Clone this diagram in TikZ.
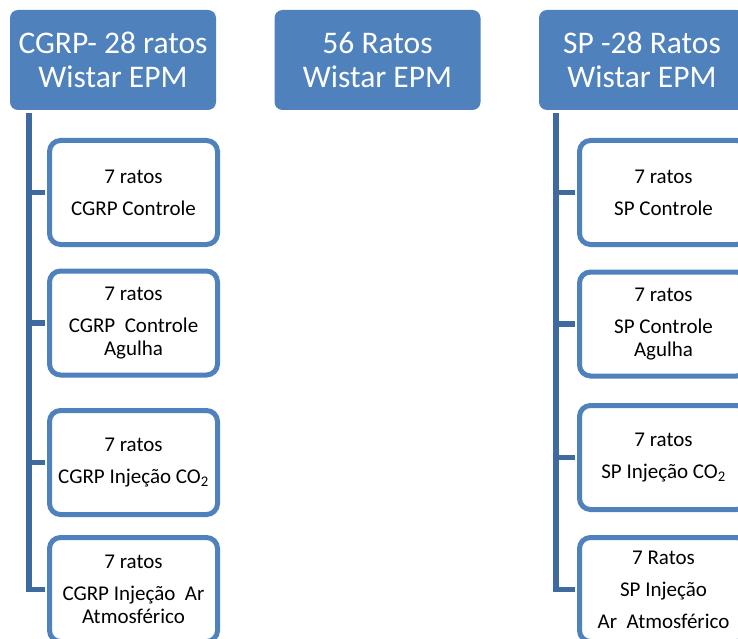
\documentclass[tikz,border=0pt]{standalone}
\usepackage{fontspec}
\setmainfont{Carlito}
\usepackage{tikz}
\usetikzlibrary{calc}
\definecolor{officeblue}{HTML}{4F81BD}
\definecolor{spineblue}{HTML}{3E6A9E}
\tikzstyle{header} = [rectangle, rounded corners=8pt, fill=officeblue, text=white, minimum width=206pt, minimum height=100pt, inner sep=0pt, align=center, font=\fontsize{31.5}{34}\selectfont]
\tikzstyle{spine} = [draw=spineblue, line width=5.5pt]

\begin{document}
\begin{tikzpicture}[x=1pt, y=-1pt,
            group/.style={rectangle, rounded corners=11pt, draw=officeblue, line width=5pt, fill=white, minimum width=168pt, minimum height=104pt, inner sep=0pt, align=center, font=\fontsize{21}{23}\selectfont}
        ]
            \useasboundingbox (0,0) rectangle (738,639);
            \clip (0,0) rectangle (738,639);

            % Top headers
            \node[header] (cgrp) at (113,60) {CGRP- 28 ratos\\Wistar EPM};
            \node[header] (total) at (377.5,60) {56 Ratos\\Wistar EPM};
            \node[header] (sp) at (642,60) {SP -28 Ratos\\Wistar EPM};

            % CGRP groups
            \node[group] (cgrp1) at (133.5,192.5) {7 ratos\\[9pt]CGRP Controle};
            \node[group] (cgrp2) at (133.5,323) {7 ratos\\[9pt]CGRP\ \ Controle\\Agulha};
            \node[group] (cgrp3) at (133.5,462.5) {7 ratos\\[9pt]CGRP Injeção CO\textsubscript{2}};
            \node[group] (cgrp4) at (133.5,589.5) {7 ratos\\[9pt]CGRP Injeção\ \ Ar\\Atmosférico};

            % SP groups
            \node[group] (sp1) at (663.5,192.5) {7 ratos\\[9pt]SP Controle};
            \node[group] (sp2) at (663.5,324) {7 ratos\\[9pt]SP Controle\\Agulha};
            \node[group] (sp3) at (663.5,457.5) {7 ratos\\[9pt]SP Injeção CO\textsubscript{2}};
            \node[group] (sp4) at (663.5,589.5) {7 Ratos\\[9pt]SP Injeção\\[9pt]Ar\ \ Atmosférico};

            % Spines under the headers
            \coordinate (cgrptop) at ($(cgrp.south west)+(19,3)$);
            \coordinate (sptop) at ($(sp.south west)+(17,3)$);
            \draw[spine, shorten >=2.5pt] (cgrptop) |- (cgrp4.west);
            \draw[spine, shorten >=2.5pt] (sptop) |- (sp4.west);

            % Branches to the groups
            \foreach \i in {1,2,3} {
                \draw[spine, shorten >=2.5pt] (cgrp\i.west -| cgrptop) -- (cgrp\i.west);
                \draw[spine, shorten >=2.5pt] (sp\i.west -| sptop) -- (sp\i.west);
            }
        \end{tikzpicture}
\end{document}
